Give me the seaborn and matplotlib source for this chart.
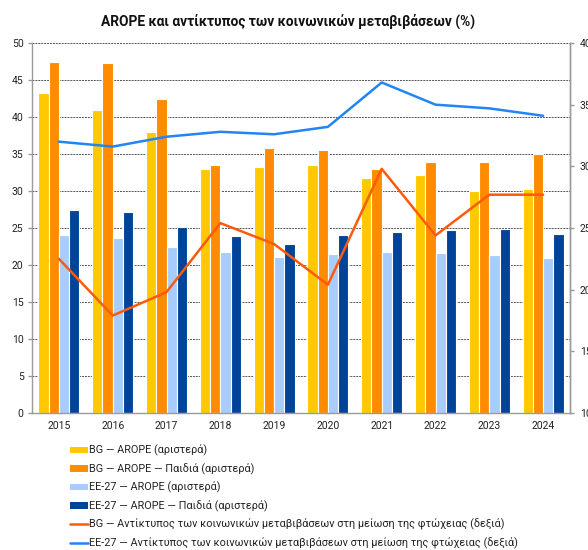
import matplotlib
matplotlib.use("Agg")
import matplotlib.pyplot as plt
from matplotlib.patches import Patch
from matplotlib.lines import Line2D
from matplotlib.ticker import FixedLocator
import seaborn as sns
import pandas as pd
import numpy as np

years = ["2015", "2016", "2017", "2018", "2019", "2020", "2021", "2022", "2023", "2024"]

bg_arope = [43.3, 41.0, 38.0, 33.0, 33.2, 33.5, 31.7, 32.2, 30.0, 30.3]
bg_arope_children = [47.5, 47.3, 42.4, 33.5, 35.8, 35.5, 33.0, 33.9, 33.9, 35.0]
eu_arope = [24.0, 23.7, 22.4, 21.7, 21.1, 21.5, 21.7, 21.6, 21.3, 20.9]
eu_arope_children = [27.4, 27.1, 25.1, 23.9, 22.8, 24.1, 24.4, 24.7, 24.9, 24.2]

bg_transfers = [22.5, 17.9, 19.8, 25.4, 23.7, 20.4, 29.8, 24.4, 27.7, 27.7]
eu_transfers = [32.0, 31.6, 32.4, 32.8, 32.6, 33.2, 36.8, 35.0, 34.7, 34.1]

bar_labels = [
    "BG — AROPE (αριστερά)",
    "BG — AROPE — Παιδιά (αριστερά)",
    "ΕΕ-27 — AROPE (αριστερά)",
    "ΕΕ-27 — AROPE — Παιδιά (αριστερά)",
]
line_labels = [
    "BG — Αντίκτυπος των κοινωνικών μεταβιβάσεων στη μείωση της φτώχειας (δεξιά)",
    "ΕΕ-27 — Αντίκτυπος των κοινωνικών μεταβιβάσεων στη μείωση της φτώχειας (δεξιά)",
]
title = "AROPE και αντίκτυπος των κοινωνικών μεταβιβάσεων (%)"

bar_colors = ["#FFC800", "#FF8C00", "#A8CDFC", "#00449A"]
line_colors = ["#FF5A0A", "#2384F4"]

sns.set_theme(style="white")
plt.rcParams["font.family"] = ["Roboto", "DejaVu Sans"]

bars = pd.DataFrame({
    "year": years * 4,
    "series": sum([[lab] * len(years) for lab in bar_labels], []),
    "value": bg_arope + bg_arope_children + eu_arope + eu_arope_children,
})

fig = plt.figure(figsize=(5.88, 5.5), dpi=100)
ax = fig.add_axes([32 / 588, 1 - 413 / 550, (570 - 32) / 588, (413 - 43) / 550])

sns.barplot(data=bars, x="year", y="value", hue="series", order=years,
            hue_order=bar_labels, palette=bar_colors, saturation=1, width=0.76, gap=0,
            edgecolor="white", linewidth=0.8, ax=ax, legend=False, zorder=2)

ax.set_xlim(-0.5, len(years) - 0.5)
ax.set_ylim(0, 50)
ax.set_yticks(np.arange(0, 51, 5))
ax.yaxis.grid(True, linestyle=(0, (2, 1)), color="#555555", linewidth=0.7, zorder=0)
ax.set_axisbelow(True)
ax.set_xlabel("")
ax.set_ylabel("")

ax.spines["top"].set_visible(False)
for side in ["left", "bottom", "right"]:
    ax.spines[side].set_color("#9a9a9a")
    ax.spines[side].set_linewidth(1.0)

ax.xaxis.set_minor_locator(FixedLocator(np.arange(-0.5, len(years), 1.0)))
ax.tick_params(axis="x", which="major", length=0, labelsize=7.5, pad=6, labelcolor="#222222")
ax.tick_params(axis="x", which="minor", length=3.5, color="#9a9a9a", width=1.0, direction="out")
ax.tick_params(axis="y", length=3, color="#9a9a9a", width=1.0, labelsize=7.5, pad=3,
               left=True, labelcolor="#222222")

ax2 = ax.twinx()
x_pos = np.arange(len(years))
ax2.plot(x_pos, bg_transfers, color=line_colors[0], linewidth=1.8, zorder=3)
ax2.plot(x_pos, eu_transfers, color=line_colors[1], linewidth=1.8, zorder=3)
ax2.set_ylim(10, 40)
ax2.set_yticks(np.arange(10, 41, 5))
ax2.tick_params(axis="y", length=3, color="#9a9a9a", width=1.0, labelsize=7.5, pad=4,
                labelcolor="#222222")
for side in ["top", "left", "bottom"]:
    ax2.spines[side].set_visible(False)
ax2.spines["right"].set_color("#9a9a9a")
ax2.spines["right"].set_linewidth(1.0)
ax2.set_xlim(-0.5, len(years) - 0.5)

fig.text(288 / 588, 0.962, title, ha="center", va="center", fontsize=9.9,
         fontweight="bold", color="#111111")

handles = [Patch(facecolor=c, edgecolor="none") for c in bar_colors]
handles += [Line2D([0], [0], color=c, linewidth=1.8) for c in line_colors]
fig.legend(handles, bar_labels + line_labels, loc="upper left",
           bbox_to_anchor=(70 / 588, 1 - 445 / 550), frameon=False,
           fontsize=7.8, handlelength=1.65, handleheight=0.55, handletextpad=0.1,
           labelspacing=0.64, borderaxespad=0, borderpad=0, labelcolor="#222222")

fig.savefig("out.png", dpi=100)
